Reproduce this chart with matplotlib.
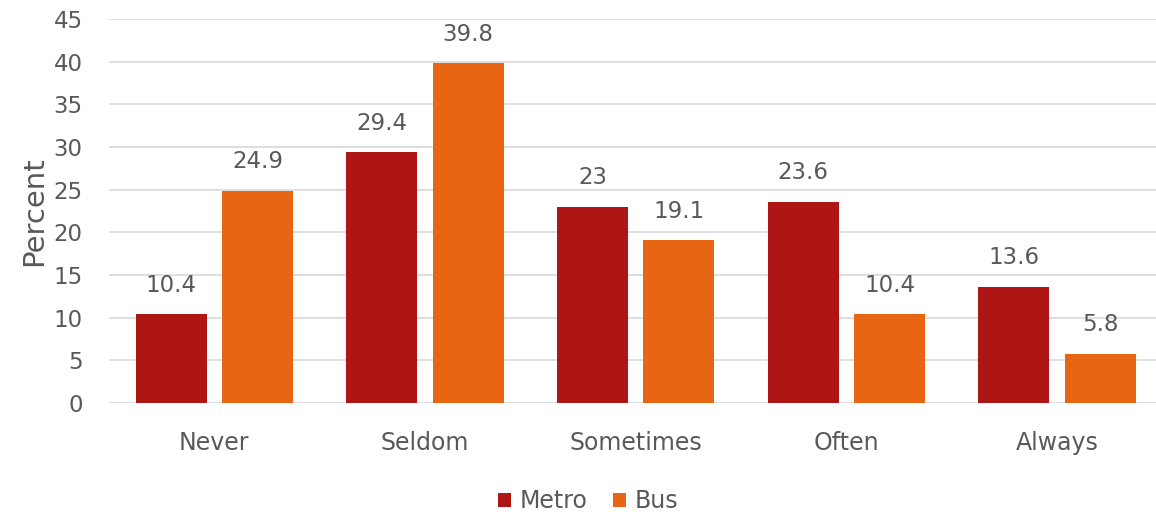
import numpy as np
import matplotlib.pyplot as plt

categories = ['Never', 'Seldom', 'Sometimes', 'Often', 'Always']
metro = [10.4, 29.4, 23, 23.6, 13.6]
bus = [24.9, 39.8, 19.1, 10.4, 5.8]
metro_labels = ['10.4', '29.4', '23', '23.6', '13.6']
bus_labels = ['24.9', '39.8', '19.1', '10.4', '5.8']

plt.rcParams['font.family'] = ['DejaVu Sans']
text_color = '#595959'

fig = plt.figure(figsize=(11.56, 5.17), dpi=100)
ax = fig.add_axes([109 / 1156, 114 / 517, 1047 / 1156, 384 / 517])

x = np.arange(len(categories))
width = 0.337
b1 = ax.bar(x - 0.205, metro, width, color='#AE1515', label='Metro', zorder=3)
b2 = ax.bar(x + 0.205, bus, width, color='#E86514', label='Bus', zorder=3)

# value labels above each bar
for bars, labels in [(b1, metro_labels), (b2, bus_labels)]:
    for rect, lab in zip(bars, labels):
        ax.text(rect.get_x() + rect.get_width() / 2, rect.get_height() + 3.4, lab,
                ha='center', va='center', fontsize=16.5, color=text_color)

ax.set_xlim(-0.5, 4.47)
ax.set_ylim(0, 45)
ax.set_yticks(range(0, 46, 5))
ax.set_xticks(x)
ax.set_xticklabels(categories)
ax.tick_params(axis='both', length=0, labelsize=16.5, colors=text_color)
ax.tick_params(axis='x', labelsize=17, pad=20)
ax.tick_params(axis='y', pad=19)
ax.grid(axis='y', color='#D9D9D9', linewidth=1.2, zorder=0)
for s in ax.spines.values():
    s.set_visible(False)
ax.set_ylabel('Percent', fontsize=21, color=text_color, labelpad=4)

fig.legend(handles=[b1, b2], loc='center', bbox_to_anchor=(588 / 1156, 1 - 501 / 517),
           ncol=2, frameon=False, fontsize=17, handlelength=0.55, handleheight=0.55,
           handletextpad=0.35, columnspacing=1.1, labelcolor=text_color)

fig.savefig('out.png', dpi=100)
